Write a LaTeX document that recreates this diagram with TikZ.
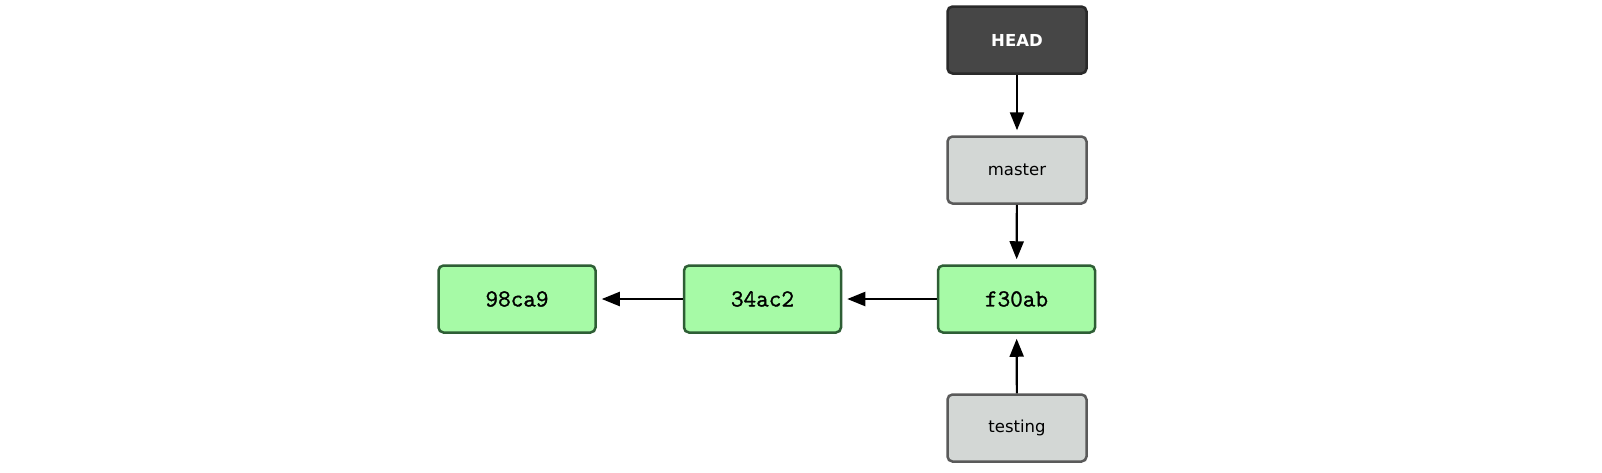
\documentclass[tikz,border=0pt]{standalone}
\usepackage{fontspec}
\setmainfont{DejaVu Sans}
\newfontfamily\commitfont[FakeBold=1.2]{Latin Modern Mono}
\usetikzlibrary{arrows.meta}
\definecolor{commitfill}{HTML}{A6FAA6}
\definecolor{commitdraw}{HTML}{2E5E35}
\definecolor{branchfill}{HTML}{D3D7D5}
\definecolor{branchdraw}{HTML}{5A5A5A}
\definecolor{headfill}{HTML}{464646}
\definecolor{headdraw}{HTML}{2A2A2A}
\tikzset{
  basebox/.style={line width=2.5pt, rounded corners=5pt, minimum height=67pt, inner sep=0pt},
  commitbox/.style={basebox, draw=commitdraw, fill=commitfill, minimum width=157pt,
    font=\commitfont\fontsize{24.5}{27}\selectfont},
  branchbox/.style={basebox, draw=branchdraw, fill=branchfill, minimum width=139pt,
    font=\fontsize{16.5}{20}\selectfont},
  headbox/.style={basebox, draw=headdraw, fill=headfill, minimum width=139pt,
    text=white, font=\bfseries\fontsize{16.5}{20}\selectfont},
  conn/.style={line width=2.2pt, -{Triangle[length=18pt,width=14pt]}, shorten >=5pt}
}
\begin{document}
\begin{tikzpicture}[x=1pt,y=-1pt]
\useasboundingbox (0,0) rectangle (1602,472);
\node[headbox] (head) at (1017,40) {HEAD};
\node[branchbox] (master) at (1017,170) {master};
\node[commitbox] (f30ab) at (1016.5,299) {f30ab};
\node[commitbox] (c34ac2) at (762.5,299) {34ac2};
\node[commitbox] (c98ca9) at (517,299) {98ca9};
\node[branchbox] (testing) at (1017,428) {testing};
\draw[conn] (head) -- (master);
\draw[conn] (master) -- (f30ab);
\draw[conn] (f30ab) -- (c34ac2);
\draw[conn] (c34ac2) -- (c98ca9);
\draw[conn] (testing) -- (f30ab);
\end{tikzpicture}
\end{document}
